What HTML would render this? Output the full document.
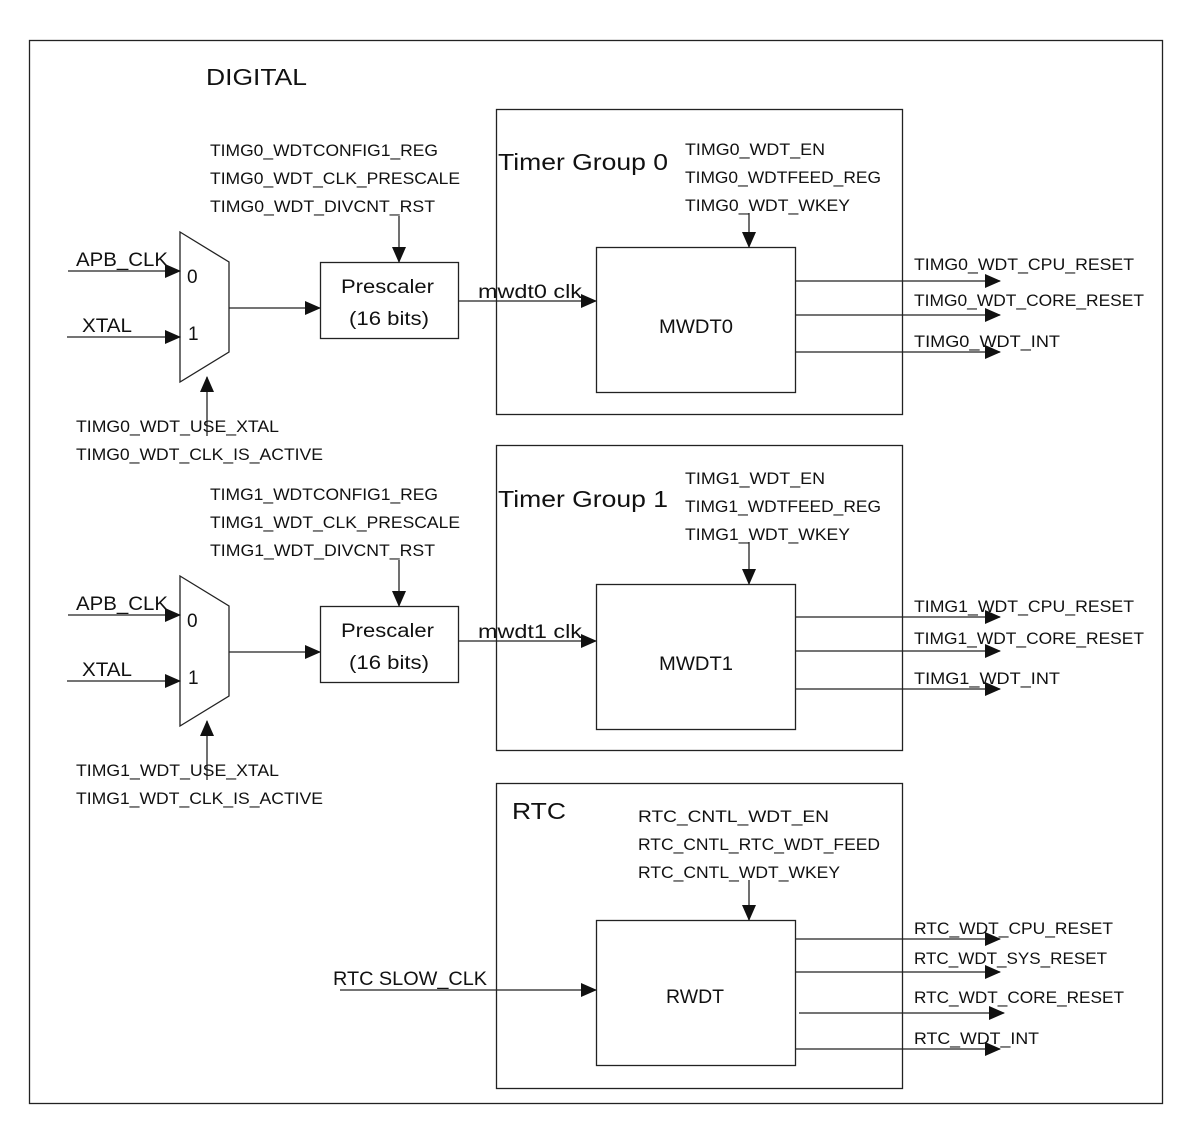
<!DOCTYPE html>
<html><head><meta charset="utf-8"><style>
html,body{margin:0;padding:0;background:#fff;}
svg{display:block;}
text{font-family:"Liberation Sans",sans-serif;fill:#111;}
.s{font-size:17px;}
.m{font-size:19px;}
.l{font-size:23px;}
line,rect,polygon.b{stroke:#222;stroke-width:1.3;fill:none;}
</style></head><body>
<svg width="1197" height="1134" viewBox="0 0 1197 1134" xmlns="http://www.w3.org/2000/svg">
<defs>
<marker id="a" markerUnits="userSpaceOnUse" markerWidth="16" markerHeight="14" refX="15" refY="7" orient="auto"><path d="M0,0 L16,7 L0,14 Z" fill="#111"/></marker>
</defs>
<rect x="29.5" y="40.5" width="1133" height="1063"/>
<text class="l" x="206" y="85" textLength="101" lengthAdjust="spacingAndGlyphs">DIGITAL</text>

<!-- Group 0 left -->
<g id="left0">
<text class="s" x="210" y="156" textLength="228" lengthAdjust="spacingAndGlyphs">TIMG0_WDTCONFIG1_REG</text>
<text class="s" x="210" y="184" textLength="250" lengthAdjust="spacingAndGlyphs">TIMG0_WDT_CLK_PRESCALE</text>
<text class="s" x="210" y="212" textLength="225" lengthAdjust="spacingAndGlyphs">TIMG0_WDT_DIVCNT_RST</text>
<line x1="399" y1="216" x2="399" y2="262" marker-end="url(#a)"/>
<polygon class="b" points="180,232 229,262 229,352 180,382"/>
<text class="m" x="187" y="283">0</text>
<text class="m" x="188" y="340">1</text>
<line x1="68" y1="271" x2="180" y2="271" marker-end="url(#a)"/>
<text class="m" x="76" y="266" textLength="92" lengthAdjust="spacingAndGlyphs">APB_CLK</text>
<line x1="67" y1="337" x2="180" y2="337" marker-end="url(#a)"/>
<text class="m" x="82" y="332" textLength="50" lengthAdjust="spacingAndGlyphs">XTAL</text>
<line x1="229" y1="308" x2="320" y2="308" marker-end="url(#a)"/>
<line x1="207" y1="436" x2="207" y2="377" marker-end="url(#a)"/>
<text class="s" x="76" y="432" textLength="203" lengthAdjust="spacingAndGlyphs">TIMG0_WDT_USE_XTAL</text>
<text class="s" x="76" y="460" textLength="247" lengthAdjust="spacingAndGlyphs">TIMG0_WDT_CLK_IS_ACTIVE</text>
<rect x="320.5" y="262.5" width="138" height="76"/>
<text class="m" x="341" y="293" textLength="93" lengthAdjust="spacingAndGlyphs">Prescaler</text>
<text class="m" x="349" y="325" textLength="80" lengthAdjust="spacingAndGlyphs">(16 bits)</text>
<line x1="458" y1="301" x2="596" y2="301" marker-end="url(#a)"/>
<text class="m" x="478" y="298" textLength="104" lengthAdjust="spacingAndGlyphs">mwdt0 clk</text>
</g>

<!-- Group 1 left -->
<g transform="translate(0,344)">
<text class="s" x="210" y="156" textLength="228" lengthAdjust="spacingAndGlyphs">TIMG1_WDTCONFIG1_REG</text>
<text class="s" x="210" y="184" textLength="250" lengthAdjust="spacingAndGlyphs">TIMG1_WDT_CLK_PRESCALE</text>
<text class="s" x="210" y="212" textLength="225" lengthAdjust="spacingAndGlyphs">TIMG1_WDT_DIVCNT_RST</text>
<line x1="399" y1="216" x2="399" y2="262" marker-end="url(#a)"/>
<polygon class="b" points="180,232 229,262 229,352 180,382"/>
<text class="m" x="187" y="283">0</text>
<text class="m" x="188" y="340">1</text>
<line x1="68" y1="271" x2="180" y2="271" marker-end="url(#a)"/>
<text class="m" x="76" y="266" textLength="92" lengthAdjust="spacingAndGlyphs">APB_CLK</text>
<line x1="67" y1="337" x2="180" y2="337" marker-end="url(#a)"/>
<text class="m" x="82" y="332" textLength="50" lengthAdjust="spacingAndGlyphs">XTAL</text>
<line x1="229" y1="308" x2="320" y2="308" marker-end="url(#a)"/>
<line x1="207" y1="436" x2="207" y2="377" marker-end="url(#a)"/>
<text class="s" x="76" y="432" textLength="203" lengthAdjust="spacingAndGlyphs">TIMG1_WDT_USE_XTAL</text>
<text class="s" x="76" y="460" textLength="247" lengthAdjust="spacingAndGlyphs">TIMG1_WDT_CLK_IS_ACTIVE</text>
<rect x="320.5" y="262.5" width="138" height="76"/>
<text class="m" x="341" y="293" textLength="93" lengthAdjust="spacingAndGlyphs">Prescaler</text>
<text class="m" x="349" y="325" textLength="80" lengthAdjust="spacingAndGlyphs">(16 bits)</text>
<line x1="458" y1="297" x2="596" y2="297" marker-end="url(#a)"/>
<text class="m" x="478" y="294" textLength="104" lengthAdjust="spacingAndGlyphs">mwdt1 clk</text>
</g>

<!-- TG0 box -->
<rect x="496.5" y="109.5" width="406" height="305"/>
<text class="l" x="498" y="170" textLength="170" lengthAdjust="spacingAndGlyphs">Timer Group 0</text>
<text class="s" x="685" y="155" textLength="140" lengthAdjust="spacingAndGlyphs">TIMG0_WDT_EN</text>
<text class="s" x="685" y="183" textLength="196" lengthAdjust="spacingAndGlyphs">TIMG0_WDTFEED_REG</text>
<text class="s" x="685" y="211" textLength="165" lengthAdjust="spacingAndGlyphs">TIMG0_WDT_WKEY</text>
<line x1="749" y1="213" x2="749" y2="247" marker-end="url(#a)"/>
<rect x="596.5" y="247.5" width="199" height="145"/>
<text class="m" x="659" y="333" textLength="74" lengthAdjust="spacingAndGlyphs">MWDT0</text>
<line x1="795" y1="281" x2="1000" y2="281" marker-end="url(#a)"/>
<line x1="795" y1="315" x2="1000" y2="315" marker-end="url(#a)"/>
<line x1="795" y1="352" x2="1000" y2="352" marker-end="url(#a)"/>
<text class="s" x="914" y="270" textLength="220" lengthAdjust="spacingAndGlyphs">TIMG0_WDT_CPU_RESET</text>
<text class="s" x="914" y="306" textLength="230" lengthAdjust="spacingAndGlyphs">TIMG0_WDT_CORE_RESET</text>
<text class="s" x="914" y="347" textLength="146" lengthAdjust="spacingAndGlyphs">TIMG0_WDT_INT</text>

<!-- TG1 box -->
<rect x="496.5" y="445.5" width="406" height="305"/>
<text class="l" x="498" y="507" textLength="170" lengthAdjust="spacingAndGlyphs">Timer Group 1</text>
<text class="s" x="685" y="484" textLength="140" lengthAdjust="spacingAndGlyphs">TIMG1_WDT_EN</text>
<text class="s" x="685" y="512" textLength="196" lengthAdjust="spacingAndGlyphs">TIMG1_WDTFEED_REG</text>
<text class="s" x="685" y="540" textLength="165" lengthAdjust="spacingAndGlyphs">TIMG1_WDT_WKEY</text>
<line x1="749" y1="542" x2="749" y2="584" marker-end="url(#a)"/>
<rect x="596.5" y="584.5" width="199" height="145"/>
<text class="m" x="659" y="670" textLength="74" lengthAdjust="spacingAndGlyphs">MWDT1</text>
<line x1="795" y1="617" x2="1000" y2="617" marker-end="url(#a)"/>
<line x1="795" y1="651" x2="1000" y2="651" marker-end="url(#a)"/>
<line x1="795" y1="689" x2="1000" y2="689" marker-end="url(#a)"/>
<text class="s" x="914" y="612" textLength="220" lengthAdjust="spacingAndGlyphs">TIMG1_WDT_CPU_RESET</text>
<text class="s" x="914" y="644" textLength="230" lengthAdjust="spacingAndGlyphs">TIMG1_WDT_CORE_RESET</text>
<text class="s" x="914" y="684" textLength="146" lengthAdjust="spacingAndGlyphs">TIMG1_WDT_INT</text>

<!-- RTC box -->
<rect x="496.5" y="783.5" width="406" height="305"/>
<text class="l" x="512" y="819" textLength="54" lengthAdjust="spacingAndGlyphs">RTC</text>
<text class="s" x="638" y="822" textLength="191" lengthAdjust="spacingAndGlyphs">RTC_CNTL_WDT_EN</text>
<text class="s" x="638" y="850" textLength="242" lengthAdjust="spacingAndGlyphs">RTC_CNTL_RTC_WDT_FEED</text>
<text class="s" x="638" y="878" textLength="202" lengthAdjust="spacingAndGlyphs">RTC_CNTL_WDT_WKEY</text>
<line x1="749" y1="880" x2="749" y2="920" marker-end="url(#a)"/>
<rect x="596.5" y="920.5" width="199" height="145"/>
<text class="m" x="666" y="1003" textLength="58" lengthAdjust="spacingAndGlyphs">RWDT</text>
<line x1="340" y1="990" x2="596" y2="990" marker-end="url(#a)"/>
<text class="m" x="333" y="985" textLength="154" lengthAdjust="spacingAndGlyphs">RTC SLOW_CLK</text>
<line x1="795" y1="939" x2="1000" y2="939" marker-end="url(#a)"/>
<line x1="795" y1="972" x2="1000" y2="972" marker-end="url(#a)"/>
<line x1="799" y1="1013" x2="1004" y2="1013" marker-end="url(#a)"/>
<line x1="795" y1="1049" x2="1000" y2="1049" marker-end="url(#a)"/>
<text class="s" x="914" y="934" textLength="199" lengthAdjust="spacingAndGlyphs">RTC_WDT_CPU_RESET</text>
<text class="s" x="914" y="964" textLength="193" lengthAdjust="spacingAndGlyphs">RTC_WDT_SYS_RESET</text>
<text class="s" x="914" y="1003" textLength="210" lengthAdjust="spacingAndGlyphs">RTC_WDT_CORE_RESET</text>
<text class="s" x="914" y="1044" textLength="125" lengthAdjust="spacingAndGlyphs">RTC_WDT_INT</text>
</svg>
</body></html>
